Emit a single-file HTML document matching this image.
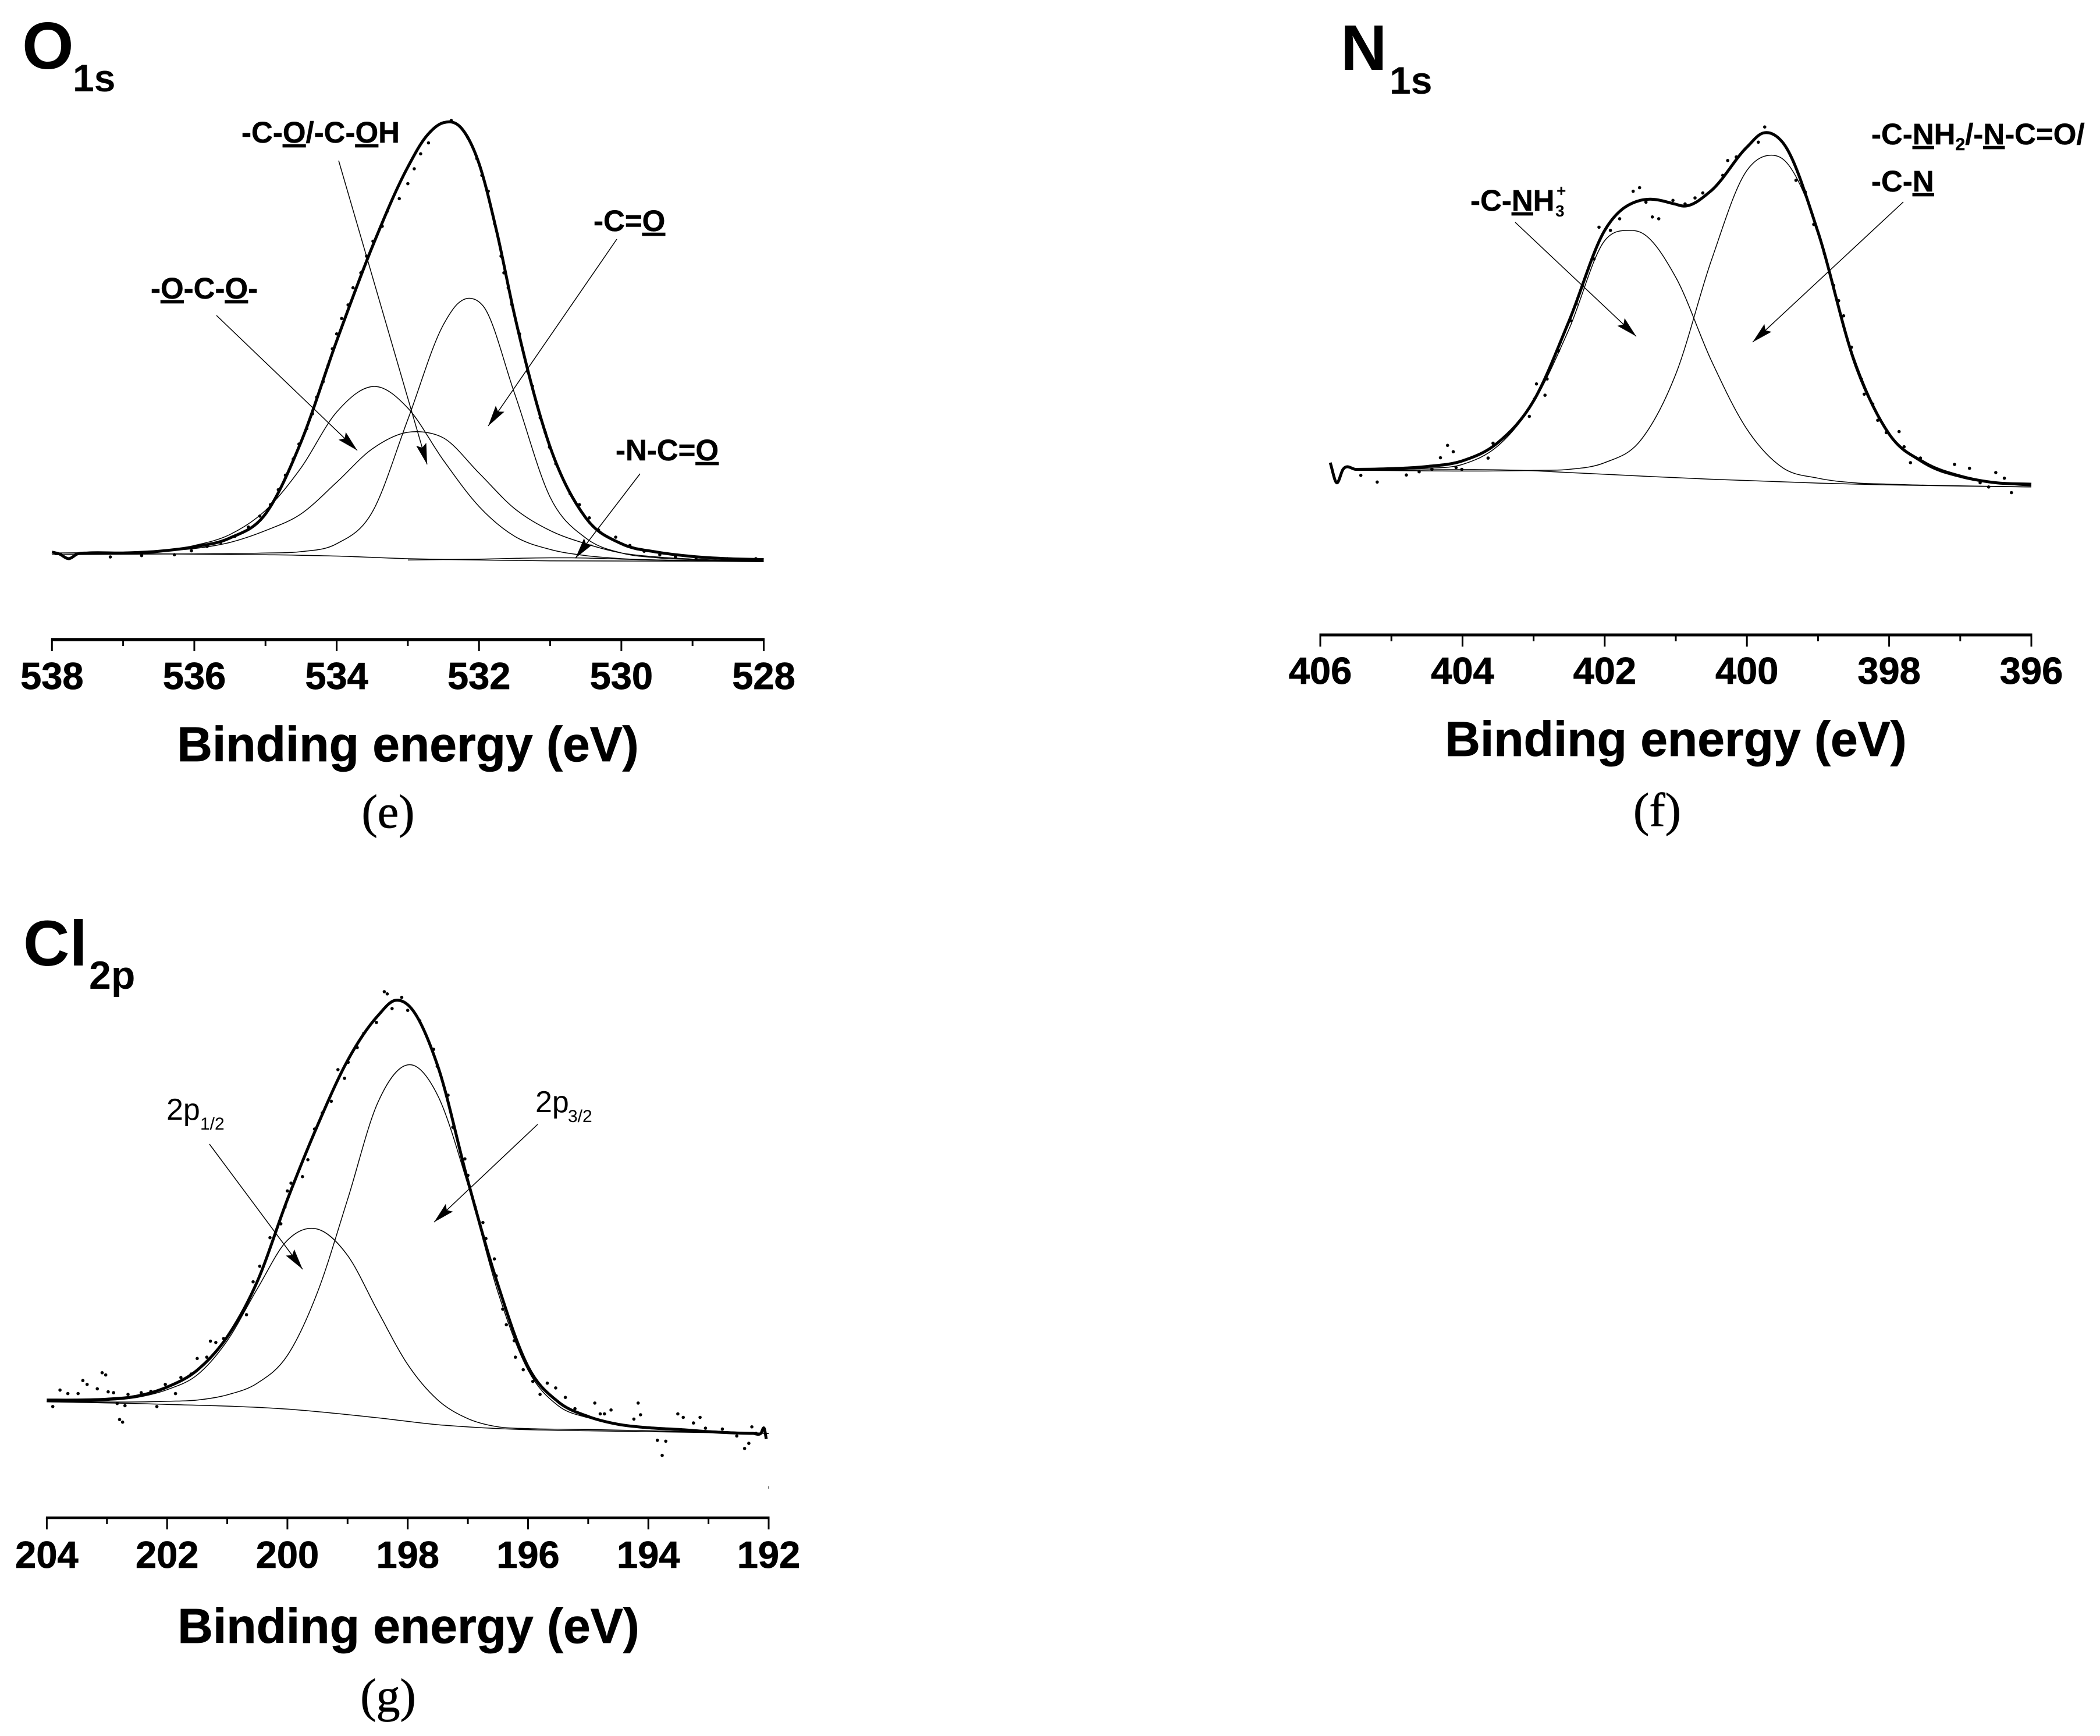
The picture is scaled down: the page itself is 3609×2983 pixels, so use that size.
<!DOCTYPE html>
<html lang="en">
<head>
<meta charset="utf-8">
<title>XPS spectra O1s, N1s, Cl2p</title>
<style>
html,body{margin:0;padding:0;background:#fff;}
svg{display:block;}
text{font-family:"Liberation Sans",sans-serif;fill:#000;}
.b{font-weight:bold;}
.lab{font-weight:bold;font-size:51px;stroke:#000;stroke-width:.5px;}
.u{text-decoration:underline;}
.cap{font-family:"Liberation Serif",serif;font-size:82px;stroke:#000;stroke-width:.8px;}
.ttl{font-weight:bold;font-size:84px;text-anchor:middle;stroke:#000;stroke-width:.8px;}
.tick{font-weight:bold;font-size:65px;text-anchor:middle;stroke:#000;stroke-width:.8px;}
</style>
</head>
<body>
<svg id="chart" xmlns="http://www.w3.org/2000/svg" width="3609" height="2983" viewBox="0 0 3609 2983">
<rect x="0" y="0" width="3609" height="2983" fill="#fff"/>
<defs>
<marker id="ah" markerUnits="userSpaceOnUse" markerWidth="38" markerHeight="20" refX="36" refY="9" orient="auto"><path d="M0 0L36 9L0 18L6 9Z" fill="#000"/></marker>
</defs>

<!-- O1s -->
<g>
<text x="38" y="118" class="b" font-size="114">O</text>
<text x="125" y="157" class="b" font-size="66">1s</text>
<text x="415" y="245" class="lab">-C-<tspan class="u">O</tspan>/-C-<tspan class="u">O</tspan>H</text>
<text x="1020" y="397" class="lab">-C=<tspan class="u">O</tspan></text>
<text x="259" y="513" class="lab">-<tspan class="u">O</tspan>-C-<tspan class="u">O</tspan>-</text>
<text x="1058" y="791" class="lab">-N-C=<tspan class="u">O</tspan></text>
<line x1="582" y1="276" x2="734" y2="798" stroke="#000" stroke-width="1.5" marker-end="url(#ah)"/>
<line x1="372" y1="542" x2="614" y2="774" stroke="#000" stroke-width="1.5" marker-end="url(#ah)"/>
<line x1="1060" y1="411" x2="839" y2="732" stroke="#000" stroke-width="1.5" marker-end="url(#ah)"/>
<line x1="1100" y1="814" x2="989" y2="959" stroke="#000" stroke-width="1.5" marker-end="url(#ah)"/>
<text x="701" y="1308" class="ttl">Binding energy (eV)</text>
<text x="667" y="1422" class="cap" text-anchor="middle">(e)</text>
</g>

<!-- N1s -->
<g>
<text x="2304" y="120" class="b" font-size="110">N</text>
<text x="2388" y="161" class="b" font-size="66">1s</text>
<text x="3216" y="248" class="lab">-C-<tspan class="u">N</tspan>H<tspan font-size="30" dy="10">2</tspan><tspan dy="-10">/-</tspan><tspan class="u">N</tspan>-C=O/</text>
<text x="3216" y="329" class="lab">-C-<tspan class="u">N</tspan></text>
<text x="2527" y="362" class="lab">-C-<tspan class="u">N</tspan>H</text>
<text x="2673" y="372" class="b" font-size="28">3</text>
<text x="2675" y="337" class="b" font-size="28">+</text>
<line x1="2604" y1="382" x2="2812" y2="578" stroke="#000" stroke-width="1.5" marker-end="url(#ah)"/>
<line x1="3271" y1="347" x2="3012" y2="588" stroke="#000" stroke-width="1.5" marker-end="url(#ah)"/>
<text x="2880" y="1299" class="ttl">Binding energy (eV)</text>
<text x="2848" y="1419" class="cap" text-anchor="middle">(f)</text>
</g>

<!-- Cl2p -->
<g>
<text x="40" y="1659" class="b" font-size="110">Cl</text>
<text x="153" y="1699" class="b" font-size="68">2p</text>
<text x="286" y="1924" font-size="52">2p</text>
<text x="344" y="1941" font-size="30">1/2</text>
<text x="920" y="1911" font-size="52">2p</text>
<text x="976" y="1928" font-size="30">3/2</text>
<line x1="360" y1="1966" x2="520" y2="2181" stroke="#000" stroke-width="1.5" marker-end="url(#ah)"/>
<line x1="924" y1="1932" x2="746" y2="2100" stroke="#000" stroke-width="1.5" marker-end="url(#ah)"/>
<line x1="1321" y1="2554" x2="1321" y2="2558" stroke="#000" stroke-width="1"/>
<text x="702" y="2823" class="ttl">Binding energy (eV)</text>
<text x="667" y="2941" class="cap" text-anchor="middle">(g)</text>
</g>
</svg>

<script>
// ---------- O1s data ----------
const oTicks = [538,536,534,532,530,528];
const oEnvE = [538,537.9,537.76,537.64,537.5,537,536.5,536,535.5,535,534.5,534,533.5,533,532.75,532.5,532.25,532,531.75,531.5,531,530.5,530,529.5,529,528.5,528];
const oEnvI = [1.9,1.5,0.4,1.5,1.7,1.7,2.1,3.1,5.1,10.6,27,50,71.4,89.6,96.4,99.7,98.5,90.4,74.8,55.8,25.8,9.7,3.8,1.9,0.9,0.4,0.2];
const oCoE = [538,537,536,535,534.5,534,533.5,533,532.5,532.31,532.12,531.94,531.5,531,530.5,530,529.5,529,528];
const oCoI = [1.3,1.4,1.5,1.7,2,3.8,11,32.1,53.7,58.3,59.7,57.9,38,14.4,5.1,1.7,0.6,0.2,-0.2];
const oCocE = [537,536.5,536,535.5,535,534.5,534,533.44,533,532.5,532,531.5,531,530.5,530,529,528];
const oCocI = [1.7,2.1,3.4,5.9,11.4,21.1,33.8,39.6,34.7,22.8,12.3,5.5,2.5,1.1,0.4,0,-0.2];
const oCohE = [538,537,536.5,536,535.5,535,534.5,534,533.5,533,532.83,532.5,532,531.5,531,530.5,530,529.5,529,528];
const oCohI = [1.7,1.9,2.2,2.7,4.1,6.8,10.6,17.8,25.4,29.2,29.3,27.9,19.9,11.8,6.8,3.8,1.7,0.8,0.3,-0.2];
const oBaseE = [538,535,534,533,532,531,528];
const oBaseI = [1.7,1.3,1,0.4,0.1,-0.1,-0.2];
const oNcoE = [533,532,531,530.7,530,529,528];
const oNcoI = [0.1,0.3,0.6,0.6,0.3,-0.1,-0.3];
const oDotE = [532.71,532.82,532.91,533,533.12,533.29,533.36,533.49,533.58,533.66,533.77,533.84,533.93,534,534.06,534.12,534.19,534.28,534.34,534.42,534.53,534.61,534.72,534.82,534.93,535.08,535.24,535.43,535.63,535.82,536.04,536.28,536.74,537.18,532.39,532.16,532.03,531.96,531.87,531.78,531.69,531.65,531.59,531.54,531.43,531.32,531.25,531.14,531.07,531.01,530.92,530.72,530.59,530.45,530.32,530.08,529.88,529.68,529.46,529.24,528.95,528.51,528.11];
const oDotI = [95.1,92.6,89.2,85.8,82.4,79.5,76.1,72.7,69.3,65.5,62.1,58.2,55.1,51.6,48.2,44.4,40.7,37.2,33.4,30,26.5,23.1,19.4,16.1,12.7,10.1,7.6,5.5,4.1,3.2,2.2,1.3,1.1,0.8,100.2,96.4,91.5,87.7,84.1,76.7,69.3,65.5,62.1,58.3,51.6,43.1,39.7,32.5,29.2,25.8,22,15.2,12.7,9.7,6.9,5.3,3.4,2.1,1.3,0.8,0.6,0.4,0.4];

// ---------- N1s data ----------
const nTicks = [406,404,402,400,398,396];
const nEnvE = [405.86,405.77,405.68,405.5,405,404.5,404,403.5,403,402.5,402,401.5,401.4,401,400.9,400.5,400,399.77,399.5,399,398.5,398,397.5,397,396.5,396];
const nEnvI = [6.6,0.9,4.7,4.7,4.9,5.5,7.1,12.3,24.1,46.8,72.4,80.9,81.2,79.8,79.3,83.7,96,100,97.4,71.9,36,14.7,6.6,2.8,0.9,0.5];
const nPeak1E = [405.5,405,404.5,404,403.5,403,402.5,402,401.65,401.5,401,400.5,400,399.5,399,398.5,398,396];
const nPeak1I = [4.5,4.7,5,6.1,11.4,23.7,44.5,69.5,72.4,71.9,59.1,35.5,16.1,5.2,2.2,0.9,0.5,-0.3];
const nPeak2E = [405.5,403,402.5,402,401.5,401,400.5,400,399.67,399.5,399,398.5,398,397.5,397,396.5,396];
const nPeak2I = [4.4,4.4,4.7,6.6,12.8,31.7,63.9,89.4,93.7,92.7,72.4,35,14.7,6.1,2.4,0.7,0];
const nBaseE = [405.5,403,402.5,400.5,399,398,396];
const nBaseI = [4.4,4.3,3.8,1.9,0.8,0.3,-0.3];
const nDotE = [405.43,405.2,404.79,404.61,404.43,404.31,404.21,404.13,404.09,404.01,403.64,403.57,403.06,402.99,402.96,402.84,402.81,402.65,402.48,402.4,402.15,402.08,401.92,401.79,401.6,401.51,401.42,401.33,401.24,401.04,400.87,400.73,400.62,400.34,400.27,400.15,399.84,399.75,399.31,399.18,399.06,398.91,398.78,398.71,398.64,398.53,398.39,398.35,398.23,398.16,398.04,397.86,397.79,397.7,397.56,397.08,396.87,396.72,396.6,396.5,396.38,396.28];
const nDotI = [3,1.1,3.1,4,4.7,8,11.5,9.7,5.2,4.7,7.9,12.1,19.7,24.6,28.9,25.7,30.3,38.3,46.8,51.6,64.3,73.3,72.4,75.7,83.5,84.5,80.4,76.2,75.7,80.9,79.9,81.6,83,88,92.2,93.2,97.4,101.7,86.6,83.3,74.1,65.8,56.8,52.5,48.2,39.3,30.3,26,23.2,18.6,15.1,15.4,11.1,6.6,7.9,6.1,5,0.9,-0.3,3.8,2.2,-1.9];

// ---------- Cl2p data ----------
const clTicks = [204,202,200,198,196,194,192];
const clEnvE = [204,203.5,203,202.5,202,201.5,201,200.5,200,199.5,199,198.5,198.21,198,197.5,197,196.5,196,195.5,195,194.5,194,193.5,193,192.26,192.13,192.07,192.04];
const clEnvI = [7.7,7.7,7.9,8.6,10.7,14.6,22.3,35.1,54,71.1,86.1,96.4,100,99,84.8,58.3,34.3,15.4,7.3,3.9,2.1,1.3,0.9,0.4,0,0,1,-1.3];
const clP12E = [204,203,202.5,202,201.5,201,200.5,200,199.54,199,198.5,198,197.5,197,196.5,196,195,192];
const clP12I = [7.3,7.6,8.3,10.1,13.5,21.4,33.4,44.6,47.3,41.1,28.3,15.9,7.7,3.4,1.5,1.1,0.9,0];
const clP32E = [204,202,201.5,201,200.5,200,199.5,199,198.5,197.93,197.5,197,196.5,196,195.5,195,194.5,194,193,192];
const clP32I = [7.3,7.4,7.7,8.9,11.6,18,32.6,54,76.3,85.1,78,57.4,32.6,14.6,6.4,3.6,2.1,1.3,0.6,0];
const clBaseE = [204,202,200,198.5,197.5,196.5,195,192];
const clBaseI = [7.3,6.7,5.6,3.6,2,1.1,0.6,0];
const clDotE = [203.9,203.78,203.65,203.48,203.4,203.33,203.16,203.08,203.02,202.98,202.89,202.83,202.79,202.74,202.7,202.65,202.43,202.27,202.17,202.03,201.86,201.77,201.6,201.5,201.34,201.28,201.19,201.06,200.68,200.57,200.46,200.29,200.11,200.04,200,199.94,199.75,199.66,199.55,199.42,199.27,199.16,199.05,198.99,198.84,198.73,198.52,198.39,198.34,198.26,198.1,198,197.8,197.57,197.51,197.33,197.25,197.05,197,196.88,196.75,196.7,196.56,196.53,196.42,196.36,196.23,196.21,196.08,195.92,195.8,195.68,195.54,195.38,195.22,194.89,194.8,194.73,194.62,194.24,194.17,194.13,193.85,193.71,193.77,193.51,193.42,193.25,193.14,193.05,192.77,192.53,192.4,192.33,192.28,192.21];
const clDotI = [6.2,10,9.2,9.2,12.2,11.3,10.3,14,13.5,9.6,9.4,6.9,3.2,2.6,6.4,9,9.4,9.7,6.2,11.3,9.2,12.9,13.7,17.3,17.6,21.3,21,21.9,27.4,35,38.6,45.2,48.4,52.3,56,57.8,59.3,63.2,70.3,74,76.7,84,82,85.7,89.1,92.4,94.9,102,101.5,98.1,100.7,97.7,95.3,88.7,84.8,78.1,70.7,63.4,59.6,52.3,48.7,45,40.3,36.4,28.7,25.1,21.4,17.6,14.7,12,9,11.6,10.5,8.3,5.7,7,4.5,4.5,5.4,3.3,7,4.3,-1.6,-1.8,-5.1,4.5,3.7,2.4,3.7,1.2,1,-0.6,-3.5,-2.3,1.5,0];

// ---------- drawing ----------
const NS = 'http://www.w3.org/2000/svg';
const root = document.getElementById('chart');

function makeScale(d0, d1, r0, r1) {
  return function (v) { return r0 + (v - d0) * (r1 - r0) / (d1 - d0); };
}

// Cubic Hermite through the read points, parametrised by x, so unevenly spaced samples stay smooth.
function smoothPath(es, is, sx, sy) {
  const p = es.map(function (e, i) { return [sx(e), sy(is[i])]; });
  const n = p.length;
  const m = p.map(function (pt, i) {
    if (i === 0) return (p[1][1] - p[0][1]) / (p[1][0] - p[0][0]);
    if (i === n - 1) return (p[n - 1][1] - p[n - 2][1]) / (p[n - 1][0] - p[n - 2][0]);
    const h0 = pt[0] - p[i - 1][0], h1 = p[i + 1][0] - pt[0];
    const s0 = (pt[1] - p[i - 1][1]) / h0, s1 = (p[i + 1][1] - pt[1]) / h1;
    return (s0 * h1 + s1 * h0) / (h0 + h1);
  });
  let d = 'M' + p[0][0].toFixed(1) + ' ' + p[0][1].toFixed(1);
  for (let i = 0; i < n - 1; i++) {
    const h = (p[i + 1][0] - p[i][0]) / 3;
    d += 'C' + (p[i][0] + h).toFixed(1) + ' ' + (p[i][1] + m[i] * h).toFixed(1) + ' ' +
         (p[i + 1][0] - h).toFixed(1) + ' ' + (p[i + 1][1] - m[i + 1] * h).toFixed(1) + ' ' +
         p[i + 1][0].toFixed(1) + ' ' + p[i + 1][1].toFixed(1);
  }
  return d;
}

function drawCurve(es, is, sx, sy, width, name) {
  const el = document.createElementNS(NS, 'path');
  
  
  el.setAttribute('d', smoothPath(es, is, sx, sy));
  el.setAttribute('fill', 'none');
  el.setAttribute('stroke', '#000');
  el.setAttribute('stroke-width', width);
  root.appendChild(el);
}

function drawDots(es, is, sx, sy, name) {
  es.forEach(function (e, i) {
    const el = document.createElementNS(NS, 'circle');
    
    
    el.setAttribute('cx', sx(e).toFixed(1));
    el.setAttribute('cy', sy(is[i]).toFixed(1));
    el.setAttribute('r', '2.8');
    el.setAttribute('fill', '#000');
    root.appendChild(el);
  });
}

function drawAxis(ticks, sx, axisY, labelY, lineW, name) {
  const first = ticks[0], last = ticks[ticks.length - 1];
  const line = document.createElementNS(NS, 'line');
  
  
  line.setAttribute('x1', sx(first) - 1.5);
  line.setAttribute('x2', sx(last) + 1.5);
  line.setAttribute('y1', axisY);
  line.setAttribute('y2', axisY);
  line.setAttribute('stroke', '#000');
  line.setAttribute('stroke-width', lineW);
  root.appendChild(line);
  ticks.forEach(function (t, i) {
    const major = document.createElementNS(NS, 'line');
    
    
    major.setAttribute('x1', sx(t));
    major.setAttribute('x2', sx(t));
    major.setAttribute('y1', axisY);
    major.setAttribute('y2', axisY + 20);
    major.setAttribute('stroke', '#000');
    major.setAttribute('stroke-width', '3');
    root.appendChild(major);
    const lab = document.createElementNS(NS, 'text');
    
    
    lab.setAttribute('class', 'tick');
    lab.setAttribute('x', sx(t));
    lab.setAttribute('y', labelY);
    lab.textContent = String(t);
    root.appendChild(lab);
    if (i < ticks.length - 1) {
      const mid = (t + ticks[i + 1]) / 2;
      const minor = document.createElementNS(NS, 'line');
      
      
      minor.setAttribute('x1', sx(mid));
      minor.setAttribute('x2', sx(mid));
      minor.setAttribute('y1', axisY);
      minor.setAttribute('y2', axisY + 11);
      minor.setAttribute('stroke', '#000');
      minor.setAttribute('stroke-width', '3');
      root.appendChild(minor);
    }
  });
}

// O1s panel
const oX = makeScale(538, 528, 89.3, 1312.5);
const oY = makeScale(0, 100, 963, 208.5);
drawAxis(oTicks, oX, 1099, 1184, 5.5, 'o1s');
drawCurve(oBaseE, oBaseI, oX, oY, 1.5, 'o1s-background-line');
drawCurve(oNcoE, oNcoI, oX, oY, 1.5, 'o1s-n-c-o-peak');
drawCurve(oCoE, oCoI, oX, oY, 1.5, 'o1s-c-double-o-peak');
drawCurve(oCocE, oCocI, oX, oY, 1.5, 'o1s-o-c-o-peak');
drawCurve(oCohE, oCohI, oX, oY, 1.5, 'o1s-c-o-c-oh-peak');
drawDots(oDotE, oDotI, oX, oY, 'o1s-data-point');
drawCurve(oEnvE, oEnvI, oX, oY, 5, 'o1s-envelope');

// N1s panel
const nX = makeScale(406, 396, 2269, 3491);
const nY = makeScale(0, 100, 835, 228.5);
drawAxis(nTicks, nX, 1091, 1175, 5, 'n1s');
drawCurve(nBaseE, nBaseI, nX, nY, 1.5, 'n1s-background-line');
drawCurve(nPeak1E, nPeak1I, nX, nY, 1.5, 'n1s-c-nh3-peak');
drawCurve(nPeak2E, nPeak2I, nX, nY, 1.5, 'n1s-c-n-peak');
drawDots(nDotE, nDotI, nX, nY, 'n1s-data-point');
drawCurve(nEnvE, nEnvI, nX, nY, 5, 'n1s-envelope');

// Cl2p panel
const clX = makeScale(204, 192, 80.4, 1321);
const clY = makeScale(0, 100, 2463, 1719);
drawAxis(clTicks, clX, 2608, 2694, 4.5, 'cl2p');
drawCurve(clBaseE, clBaseI, clX, clY, 1.5, 'cl2p-background-line');
drawCurve(clP12E, clP12I, clX, clY, 1.5, 'cl2p-2p-1-2-peak');
drawCurve(clP32E, clP32I, clX, clY, 1.5, 'cl2p-2p-3-2-peak');
drawDots(clDotE, clDotI, clX, clY, 'cl2p-data-point');
drawCurve(clEnvE, clEnvI, clX, clY, 5, 'cl2p-envelope');
</script>
</body>
</html>
